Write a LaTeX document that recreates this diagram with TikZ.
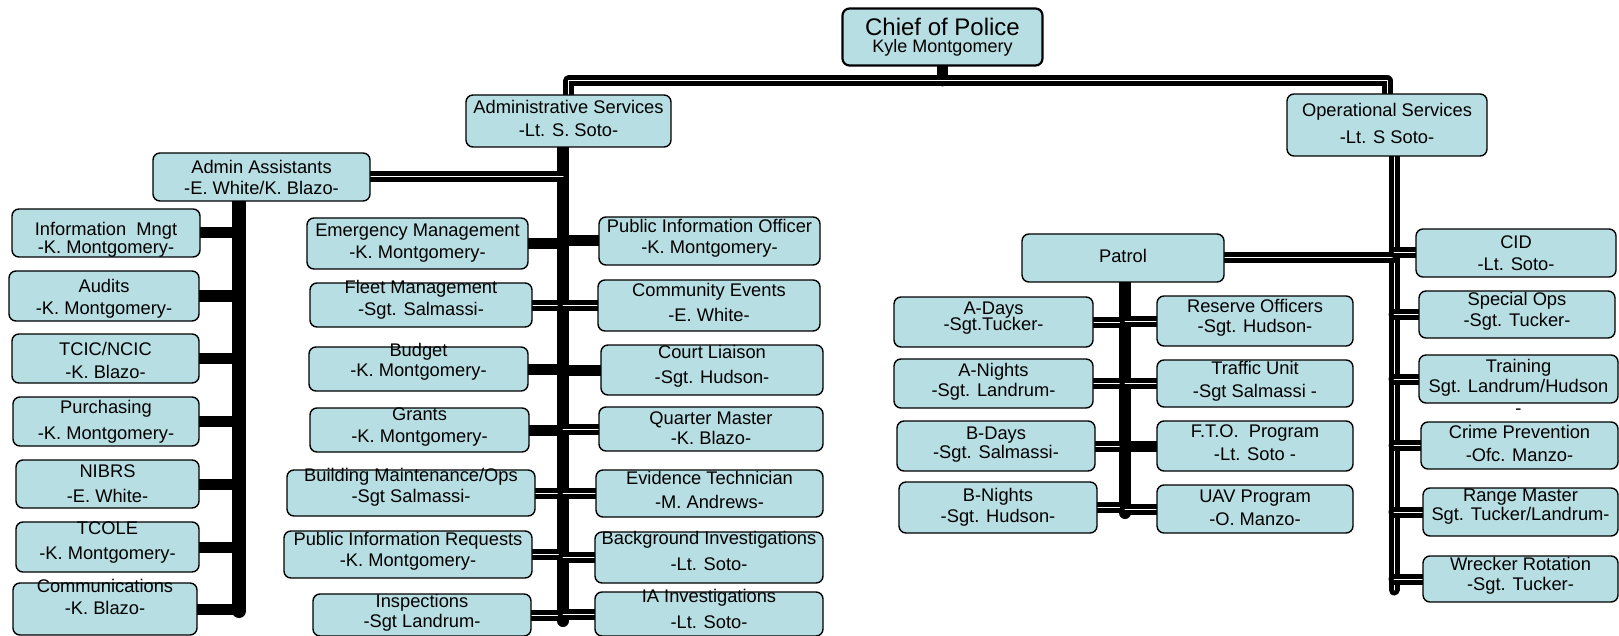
\documentclass[tikz,border=0pt]{standalone}
\usepackage{fontspec}
\setmainfont{Liberation Sans}
\usetikzlibrary{backgrounds}
\definecolor{boxfill}{RGB}{183,222,226}
\tikzset{
  obox/.style={draw=black, line width=1.4pt, fill=boxfill, rounded corners=7pt, inner sep=0pt, outer sep=0pt},
  otxt/.style={font=\fontsize{18.3}{21}\selectfont, align=center, inner sep=0pt, text=black},
  conn/.style={line width=11pt, black, line cap=round, line join=round},
  connd/.style={line width=5pt, double=white, double distance=1pt, black, line cap=round, line join=round},
  trunk/.style={line width=12pt, black, line cap=round},
}
\newcommand\orgbox[7]{%
  \node[obox, minimum width={(#4-#2)*1pt}, minimum height={(#5-#3)*1pt}] (#1) at ({(#2+#4)/2},{(#3+#5)/2}) {};
  \node[otxt] (#1t) at ({(#2+#4)/2},{(#3+#5)/2+#6}) {#7};
}
\begin{document}
\begin{tikzpicture}[x=1pt,y=-1pt]
\useasboundingbox (0,0) rectangle (1619,636);
% top
\node[obox, line width=2.2pt, minimum width=200pt, minimum height=57pt] (chief) at (942.5,37) {};
\node[otxt] (chieft) at (942.5,37) {\fontsize{24}{26}\selectfont Chief of Police\\[-4pt]\fontsize{18}{20}\selectfont Kyle Montgomery};
\orgbox{admin}{466}{95}{671}{147}{-2.5}{Administrative Services\\[2pt]-Lt. S. Soto-}
\orgbox{ops}{1287}{94}{1487}{156}{-2}{Operational Services\\[6pt]-Lt. S Soto-}
\orgbox{aa}{153}{153}{370}{201}{0}{Admin Assistants\\-E. White/K. Blazo-}
% left column
\orgbox{im}{12}{209}{200}{257}{7}{Information\ \ Mngt\\[-3pt]-K. Montgomery-}
\orgbox{au}{9}{271}{199}{321}{3}{Audits\\[1pt]-K. Montgomery-}
\orgbox{tc}{12}{334}{199}{383}{2}{TCIC/NCIC\\[2pt]-K. Blazo-}
\orgbox{pu}{13}{397}{199}{446}{0}{Purchasing\\[5pt]-K. Montgomery-}
\orgbox{ni}{16}{460}{199}{508}{0}{NIBRS\\[4pt]-E. White-}
\orgbox{to}{16}{522}{199}{572}{-4}{TCOLE\\[4pt]-K. Montgomery-}
\orgbox{co}{13}{583}{197}{635}{-12}{Communications\\[1pt]-K. Blazo-}
% middle-left column
\orgbox{em}{307}{218}{528}{269}{0}{Emergency Management\\[1pt]-K. Montgomery-}
\orgbox{fm}{310}{283}{532}{327}{-5}{Fleet Management\\[1pt]-Sgt. Salmassi-}
\orgbox{bu}{309}{347}{528}{391}{-7}{Budget\\[-1pt]-K. Montgomery-}
\orgbox{gr}{310}{408}{529}{452}{-3}{Grants\\[1pt]-K. Montgomery-}
\orgbox{bm}{287}{470}{535}{516}{-6}{Building Maintenance/Ops\\-Sgt Salmassi-}
\orgbox{pr}{284}{531}{532}{578}{-3}{Public Information Requests\\-K. Montgomery-}
\orgbox{in}{313}{594}{531}{636}{-2}{Inspections\\[-1pt]-Sgt Landrum-}
% middle-right column
\orgbox{pio}{599}{217}{820}{265}{-3}{Public Information Officer\\-K. Montgomery-}
\orgbox{ce}{598}{280}{820}{331}{-3}{Community Events\\[4pt]-E. White-}
\orgbox{cl}{601}{345}{823}{395}{-4}{Court Liaison\\[4pt]-Sgt. Hudson-}
\orgbox{qm}{599}{407}{823}{451}{-1}{Quarter Master\\[-1pt]-K. Blazo-}
\orgbox{et}{596}{470}{823}{517}{-4}{Evidence Technician\\[3pt]-M. Andrews-}
\orgbox{bi}{595}{532}{823}{583}{-7}{Background Investigations\\[5pt]-Lt. Soto-}
\orgbox{ia}{595}{592}{823}{636}{-5}{IA Investigations\\[5pt]-Lt. Soto-}
% patrol
\orgbox{pa}{1022}{234}{1224}{282}{-2}{Patrol}
\orgbox{ad}{894}{297}{1093}{347}{-4}{A-Days\\[-5pt]-Sgt.Tucker-}
\orgbox{an}{894}{359}{1093}{408}{-1.5}{A-Nights\\[-1pt]-Sgt. Landrum-}
\orgbox{bd}{897}{421}{1095}{471}{-1.5}{B-Days\\[-2pt]-Sgt. Salmassi-}
\orgbox{bn}{899}{482}{1097}{533}{0}{B-Nights\\-Sgt. Hudson-}
\orgbox{ro}{1157}{296}{1353}{346}{-3}{Reserve Officers\\[-1pt]-Sgt. Hudson-}
\orgbox{tu}{1157}{360}{1353}{407}{-2}{Traffic Unit\\[2pt]-Sgt Salmassi -}
\orgbox{ft}{1157}{421}{1353}{471}{-3.5}{F.T.O.\ \ Program\\[2pt]-Lt. Soto -}
\orgbox{uv}{1157}{485}{1353}{533}{-1.5}{UAV Program\\[2pt]-O. Manzo-}
% ops column
\orgbox{cid}{1416}{229}{1616}{277}{0}{CID\\[1pt]-Lt. Soto-}
\orgbox{so}{1419}{291}{1615}{338}{-3}{Special Ops\\-Sgt. Tucker-}
\orgbox{tr}{1419}{355}{1618}{403}{8}{Training\\[-1pt]Sgt. Landrum/Hudson\\[1pt]-}
\orgbox{cp}{1421}{422}{1618}{469}{-2}{Crime Prevention\\[2pt]-Ofc. Manzo-}
\orgbox{rm}{1423}{488}{1618}{536}{-5.5}{Range Master\\[-2pt]Sgt. Tucker/Landrum-}
\orgbox{wr}{1423}{556}{1618}{602}{-3}{Wrecker Rotation\\[-1pt]-Sgt. Tucker-}
% connectors
\begin{scope}[on background layer]
  \coordinate (bar) at (942.5,81);
  \coordinate (atop) at (563,147);
  \coordinate (abot) at (563,621);
  \coordinate (aatop) at (239,201);
  \coordinate (aabot) at (239,611);
  \coordinate (otop) at (1394,156);
  \coordinate (obot) at (1394,590);
  \coordinate (ptop) at (1125,282);
  \coordinate (pbot) at (1125,513);
  \draw[conn] (chief.south) -- (chief.south |- bar);
  \draw[connd] (admin.north) -- (admin.north |- bar) -- (ops.north |- bar) -- (ops.north);
  % admin
  \draw[trunk] (admin.south -| atop) -- (abot);
  \draw[connd] (aa.east) -- (aa.east -| atop);
  \foreach \n in {em,bu,gr} \draw[conn] (\n.east) -- (\n.east -| atop);
  \foreach \n in {fm,bm,pr,in} \draw[connd] (\n.east) -- (\n.east -| atop);
  \foreach \n in {pio,cl} \draw[conn] (\n.west) -- (\n.west -| atop);
  \foreach \n in {ce,qm,et,bi,ia} \draw[connd] (\n.west) -- (\n.west -| atop);
  % admin assistants
  \draw[trunk, line width=14pt] (aa.south -| aatop) -- (aabot);
  \foreach \n in {im,au,tc,pu,ni,to,co} \draw[conn] (\n.east) -- (\n.east -| aatop);
  % ops
  \draw[connd] (ops.south -| otop) -- (obot);
  \draw[connd] (pa.east) -- (pa.east -| otop);
  \foreach \n in {cid,so,tr,cp,rm,wr} \draw[connd] (\n.west) -- (\n.west -| otop);
  % patrol
  \draw[trunk] (pa.south -| ptop) -- (pbot);
  \foreach \n in {ad,an,bd,bn} \draw[connd] (\n.east) -- (\n.east -| ptop);
  \foreach \n in {ro,tu,uv} \draw[connd] (\n.west) -- (\n.west -| ptop);
  \draw[conn] (ft.west) -- (ft.west -| ptop);
\end{scope}
\end{tikzpicture}
\end{document}
